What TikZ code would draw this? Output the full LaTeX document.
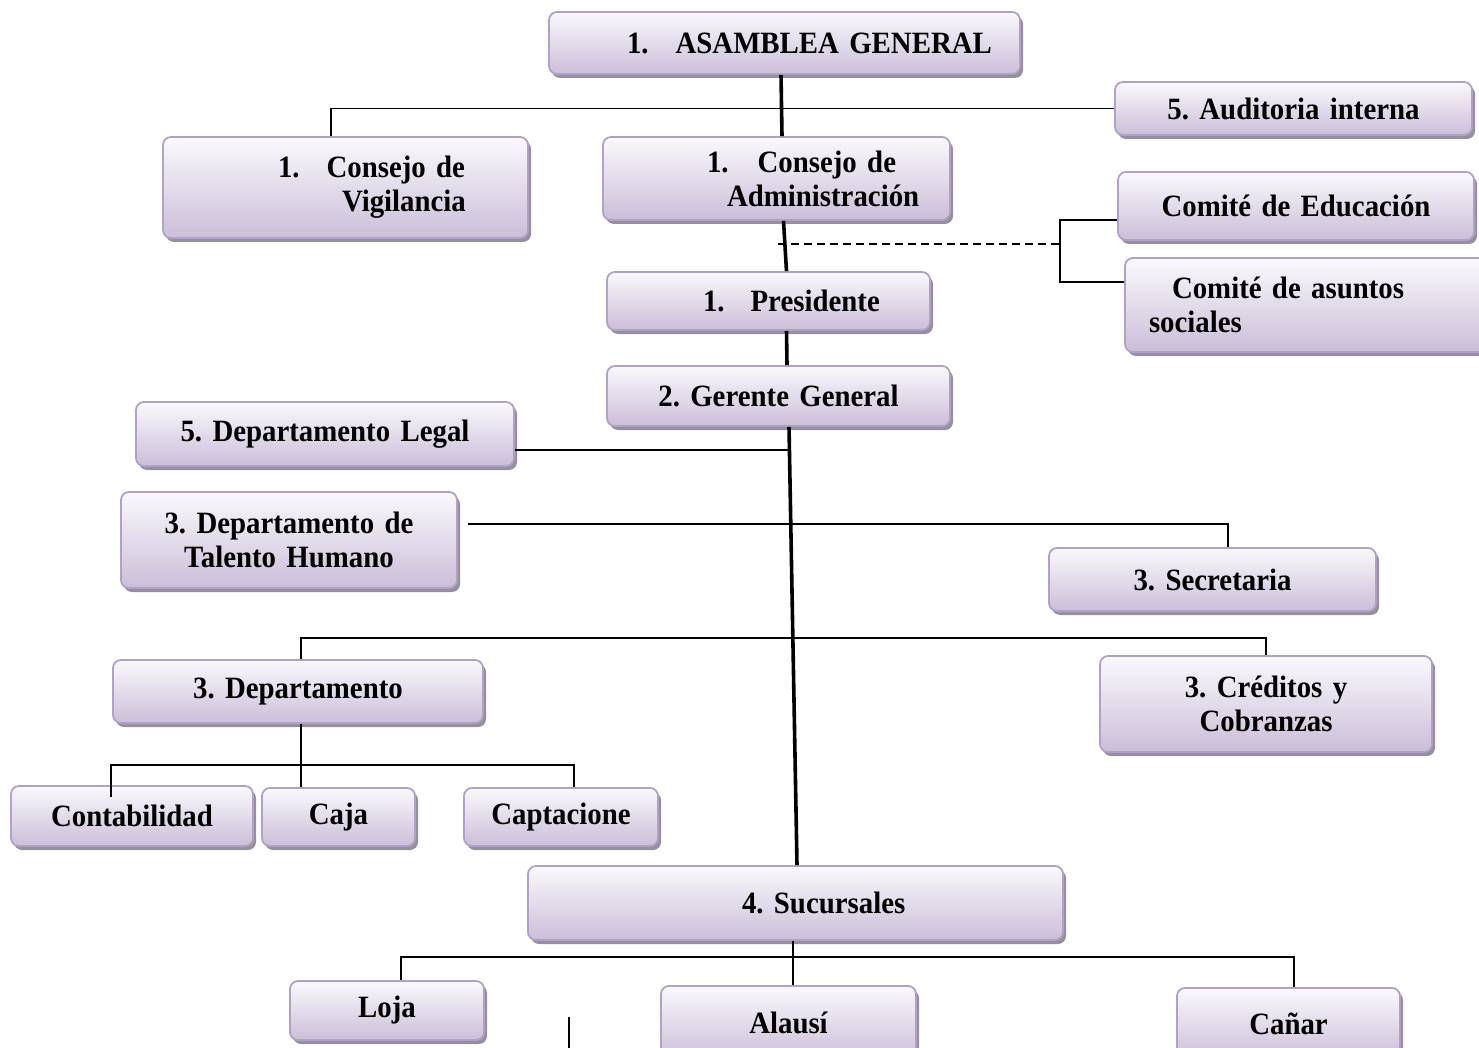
\documentclass[tikz,border=0pt]{standalone}
\usepackage{fontspec}
\setmainfont{Liberation Serif}[WordSpace=0.8, FakeStretch=0.93]
\usetikzlibrary{shadows}

\definecolor{boxline}{HTML}{B2A1C7}
\definecolor{boxtop}{HTML}{FAF9FC}
\definecolor{boxbottom}{HTML}{CBBED9}
\definecolor{boxshadow}{HTML}{978FA1}

\tikzset{
  orgbox/.style={rounded corners=8pt, draw=boxline, line width=1.8pt,
    top color=boxtop, bottom color=boxbottom, inner xsep=0pt, inner ysep=2pt,
    font=\bfseries\frenchspacing\fontsize{31}{34}\selectfont,
    drop shadow={shadow xshift=3pt, shadow yshift=-4pt, fill=boxshadow, opacity=1}},
  link/.style={line width=1.8pt, black},
  spine/.style={line width=3.6pt, black},
  dashlink/.style={line width=1.8pt, black, dash pattern=on 8pt off 5pt}
}

% \placebox[align]{name}{x1}{y1}{x2}{y2}{text}: a box given by its corners
\newcommand\placebox[7][center]{%
  \pgfmathsetmacro\obw{#5-#3}%
  \pgfmathsetmacro\obh{#6-#4}%
  \node[orgbox, align=#1, text width=\obw pt, minimum height=\obh pt]
    (#2) at ({(#3+#5)/2},{(#4+#6)/2}) {#7};}

\begin{document}
\begin{tikzpicture}[x=1pt, y=-1pt]
\useasboundingbox (0,0) rectangle (1479,1048);

% boxes
\placebox[left]{asm}{549}{12}{1020}{74}{\hspace*{78pt}1.\hspace{27pt}ASAMBLEA GENERAL}
\placebox{aud}{1115}{82}{1472}{135}{5. Auditoria interna}
\placebox[left]{vig}{163}{137}{528}{238}{\hspace*{115pt}1.\hspace{27pt}Consejo de\\\hspace*{179pt}Vigilancia}
\placebox[left]{adm}{603}{137}{950}{220}{\hspace*{104pt}1.\hspace{29pt}Consejo de\\\hspace*{124pt}Administración}
\placebox{edu}{1118}{172}{1474}{240}{Comité de Educación}
\placebox[left]{soc}{1125}{258}{1490}{352}{\hspace*{47pt}Comité de asuntos\\\hspace*{24pt}sociales}
\placebox[left]{pres}{607}{272}{930}{330}{\hspace*{96pt}1.\hspace{26pt}Presidente}
\placebox{gg}{607}{366}{950}{426}{2. Gerente General}
\placebox{legal}{136}{402}{514}{466}{5. Departamento Legal}
\placebox{tal}{121}{492}{457}{588}{3. Departamento de\\Talento Humano}
\placebox{sec}{1049}{548}{1376}{611}{3. Secretaria}
\placebox{dep}{113}{660}{483}{723}{3. Departamento}
\placebox{cred}{1100}{656}{1432}{752}{3. Créditos y\\Cobranzas}
\placebox{cont}{11}{786}{253}{846}{Contabilidad}
\placebox{caja}{262}{788}{415}{846}{Caja}
\placebox{capt}{464}{788}{658}{846}{Captacione}
\placebox[left]{suc}{528}{866}{1063}{940}{\hspace*{214pt}4. Sucursales}
\placebox{loja}{290}{981}{484}{1040}{Loja}
\placebox{ala}{661}{986}{916}{1060}{Alausí}
\placebox{can}{1177}{988}{1400}{1060}{Cañar}

% helper points
\coordinate (brk) at (1060,244);
\coordinate (dashL) at (778,244);
\coordinate (sp1) at ([xshift=10.5pt]gg.south);
\coordinate (sp2) at ([xshift=1.5pt]suc.north);
\coordinate (barA) at (0,638);
\coordinate (barB) at (0,765);
\coordinate (barC) at (0,957);
\coordinate (strayT) at (569,1017);
\coordinate (strayB) at (569,1060);

% upper chain
\draw[spine] ([xshift=-3.5pt]asm.south) -- ([xshift=5.5pt]adm.north);
\draw[link] ([xshift=-14.5pt]vig.north) |- (aud.west);
\draw[spine] ([xshift=7pt]adm.south) -- ([xshift=18pt]pres.north);
\draw[spine] ([xshift=18pt]pres.south) -- ([xshift=8.5pt]gg.north);

% committees
\draw[dashlink] (dashL) -- ([xshift=3pt]brk);
\draw[link] ([yshift=-14pt]edu.west) -| (brk) |- ([yshift=23pt]soc.west);

% main spine and its branches
\draw[spine] (sp1) -- (sp2);
\draw[link] ([yshift=-16pt]legal.east) -- ([yshift=-16pt]legal.east -| sp1);
\draw[link] ([shift={(10pt,16pt)}]tal.east) -| ([xshift=15.5pt]sec.north);
\draw[link] ([xshift=3pt]dep.north) |- (barA -| sp1) -| (cred.north);

% departments
\draw[link] ([xshift=3pt]dep.south) -- ([xshift=-37.5pt]caja.north);
\draw[link] ([xshift=-21pt,yshift=-12pt]cont.north) |- (barB -| caja.north) -| ([xshift=13pt]capt.north);

% branches
\draw[link] ([xshift=-2.5pt]suc.south) -- ([xshift=4.5pt]ala.north);
\draw[link] ([xshift=14pt]loja.north) |- (barC -| suc.south) -| ([xshift=5.5pt]can.north);
\draw[link] (strayT) -- (strayB);
\end{tikzpicture}
\end{document}
